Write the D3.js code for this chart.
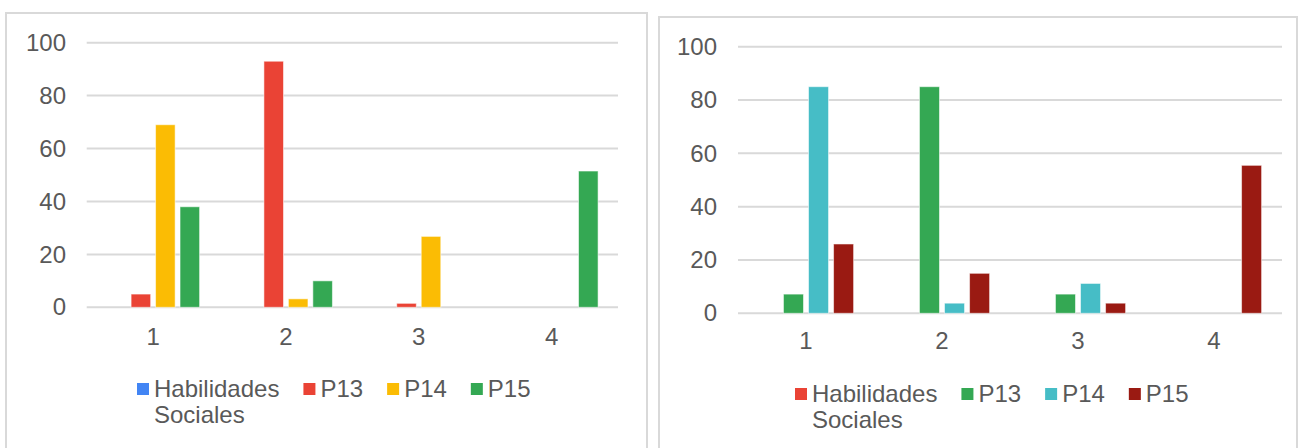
<!DOCTYPE html>
<html>
<head>
<meta charset="utf-8">
<script src="https://cdn.jsdelivr.net/npm/d3@7"></script>
<style>
  html, body { margin: 0; padding: 0; background: #ffffff; }
  svg { display: block; }
  text { font-family: "Liberation Sans", Arial, sans-serif; fill: #595959; }
</style>
</head>
<body>
<svg id="chart" width="1299" height="448"></svg>
<script>
// Categories shared by both panels
const categories = ["1", "2", "3", "4"];
const yTicks = [0, 20, 40, 60, 80, 100];
const seriesNames = ["Habilidades Sociales", "P13", "P14", "P15"];

// Left panel values (one array per series, indexed by category)
const leftHabilidades = [0, 0, 0, 0];
const leftP13 = [5, 93, 1.5, 0];
const leftP14 = [69, 3.2, 26.8, 0];
const leftP15 = [38, 10, 0, 51.5];
const leftColors = ["#4285F4", "#EA4335", "#FBBC04", "#34A853"];

// Right panel values
const rightHabilidades = [0, 0, 0, 0];
const rightP13 = [7.2, 85, 7.2, 0];
const rightP14 = [85, 3.8, 11.2, 0];
const rightP15 = [26, 15, 3.8, 55.5];
const rightColors = ["#EA4335", "#34A853", "#46BDC6", "#9A1A12"];

const svg = d3.select("#chart");
const FONT = "'Liberation Sans', Arial, sans-serif";

function drawPanel(cfg) {
  const g = svg.append("g");

  // panel frame
  g.append("rect")
    .attr("x", cfg.frame[0]).attr("y", cfg.frame[1])
    .attr("width", cfg.frame[2]).attr("height", cfg.frame[3])
    .attr("fill", "none").attr("stroke", "#d9d9d9").attr("stroke-width", 2);

  const x0 = d3.scaleBand().domain(categories)
    .range([cfg.left, cfg.right]).paddingInner(0.3).paddingOuter(0.15);
  const x1 = d3.scaleBand().domain(seriesNames)
    .range([0, x0.bandwidth()]).paddingInner(0.2).paddingOuter(0);
  const y = d3.scaleLinear().domain([0, 100]).range([cfg.bottom, cfg.top]);

  // gridlines
  g.append("g").selectAll("line").data(yTicks).join("line")
    .attr("x1", cfg.left).attr("x2", cfg.right)
    .attr("y1", d => y(d)).attr("y2", d => y(d))
    .attr("stroke", "#d9d9d9").attr("stroke-width", 2);

  // y-axis tick labels
  const yAxis = d3.axisLeft(y).tickValues(yTicks).tickSize(0).tickPadding(0);
  const ya = g.append("g").attr("transform", `translate(${cfg.labelRight},0)`).call(yAxis);
  ya.select(".domain").remove();
  ya.selectAll("text").attr("font-size", 24).attr("fill", "#595959")
    .style("font-family", FONT);

  // x-axis category labels
  const xAxis = d3.axisBottom(x0).tickSize(0).tickPadding(0);
  const xa = g.append("g").attr("transform", `translate(0,${cfg.catBaseline})`).call(xAxis);
  xa.select(".domain").remove();
  xa.selectAll("text").attr("font-size", 24).attr("fill", "#595959").attr("dy", 0).attr("y", 0)
    .style("font-family", FONT);

  // bars
  const rows = categories.map((c, i) => ({
    cat: c,
    vals: cfg.series.map((s, k) => ({ name: seriesNames[k], v: s[i], color: cfg.colors[k] }))
  }));
  const groups = g.append("g").selectAll("g").data(rows).join("g")
    .attr("transform", d => `translate(${x0(d.cat)},0)`);
  groups.selectAll("rect").data(d => d.vals.filter(v => v.v > 0)).join("rect")
    .attr("x", d => x1(d.name))
    .attr("width", x1.bandwidth())
    .attr("y", d => y(d.v))
    .attr("height", d => y(0) - y(d.v))
    .attr("fill", d => d.color)
    .attr("stroke", "rgba(255,255,255,0.55)").attr("stroke-width", 1);

  // legend
  const lg = g.append("g").attr("transform", `translate(${cfg.legendX},${cfg.legendBaseline})`);
  let cx = 0;
  seriesNames.forEach((name, k) => {
    const item = lg.append("g").attr("transform", `translate(${cx},0)`);
    item.append("rect").attr("x", 0).attr("y", -14).attr("width", 12).attr("height", 12)
      .attr("fill", cfg.colors[k]);
    const words = name.split(" ");
    const t = item.append("text").attr("x", 17).attr("y", 0).attr("font-size", 24);
    let w = 0;
    words.forEach((word, j) => {
      const ts = t.append("tspan").attr("x", 17).attr("dy", j === 0 ? 0 : 26).text(word);
      w = Math.max(w, ts.node().getComputedTextLength());
    });
    cx += 17 + w + 24;
  });
}

drawPanel({
  frame: [6, 13, 641, 460],
  left: 86.7, right: 618, top: 42.7, bottom: 307.3,
  labelRight: 66, catBaseline: 345,
  series: [leftHabilidades, leftP13, leftP14, leftP15],
  colors: leftColors,
  legendX: 137, legendBaseline: 397
});

drawPanel({
  frame: [659, 17, 638, 460],
  left: 738, right: 1282, top: 46.7, bottom: 313.3,
  labelRight: 717, catBaseline: 349,
  series: [rightHabilidades, rightP13, rightP14, rightP15],
  colors: rightColors,
  legendX: 795, legendBaseline: 402
});
</script>
</body>
</html>
